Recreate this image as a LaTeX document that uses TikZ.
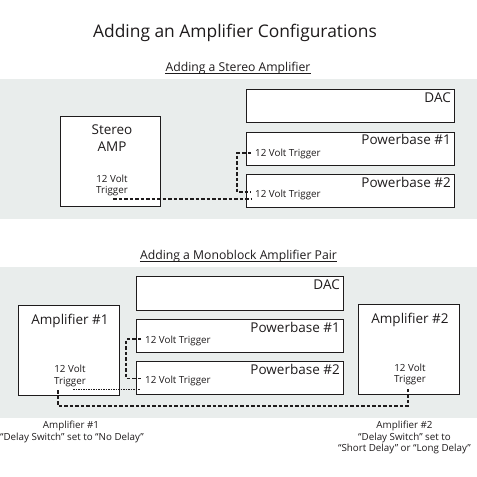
\documentclass[tikz,border=0pt]{standalone}
\usepackage{fontspec}
\setmainfont{Open Sans}
\definecolor{panel}{RGB}{233,237,236}
\definecolor{ink}{RGB}{30,27,28}
\begin{document}
\begin{tikzpicture}[x=1pt,y=-1pt,
  box/.style={draw=ink,line width=1.1pt,fill=white,anchor=north west,inner sep=0pt},
  lbl/.style={inner sep=0pt,text=ink},
  big/.style={lbl,font=\fontsize{13.5}{15}\selectfont},
  small/.style={lbl,font=\fontsize{9.8}{11}\selectfont},
  trig/.style={draw=ink,line width=1.8pt,dash pattern=on 3.5pt off 2pt},
  fine/.style={draw=ink,line width=1.5pt,dash pattern=on 1.5pt off 1pt}]
\useasboundingbox (0,0) rectangle (477,477);
\fill[white] (0,0) rectangle (477,477);
% panels
\fill[panel] (0,79) rectangle (477,219);
\fill[panel] (0,267) rectangle (477,418);
% titles
\node[lbl,anchor=base,font=\fontsize{17.4}{20}\selectfont] (title) at (235,37) {Adding an Amplifier Configurations};
\node[lbl,anchor=base,font=\fontsize{12.2}{14}\selectfont] (sub1) at (238,71) {Adding a Stereo Amplifier};
\node[lbl,anchor=base,font=\fontsize{12.2}{14}\selectfont] (sub2) at (238.5,259.5) {Adding a Monoblock Amplifier Pair};
\draw[ink,line width=0.9pt] ([yshift=-2pt]sub1.base west) -- ([yshift=-2pt]sub1.base east);
\draw[ink,line width=0.9pt] ([yshift=-2pt]sub2.base west) -- ([yshift=-2pt]sub2.base east);
% ---------- top section
\node[box,minimum width=208pt,minimum height=33pt] (dacA) at (246,89) {};
\node[box,minimum width=208pt,minimum height=33pt] (pbA1) at (246,132) {};
\node[box,minimum width=208pt,minimum height=33pt] (pbA2) at (246,174) {};
\node[box,minimum width=100pt,minimum height=90pt] (amp) at (60,116) {};
\node[big,anchor=base east] (dacAt) at (451,102) {DAC};
\node[big,anchor=base east] (pbA1t) at (451,144) {Powerbase \#1};
\node[big,anchor=base east] (pbA2t) at (451,187) {Powerbase \#2};
\node[small,anchor=base west] (pbA1g) at (255,156) {12 Volt Trigger};
\node[small,anchor=base west] (pbA2g) at (255,197) {12 Volt Trigger};
\node[big,anchor=base] (ampt1) at (112,134) {Stereo};
\node[big,anchor=base] (ampt2) at (112,151) {AMP};
\node[small,anchor=base] (ampg1) at (112,182) {12 Volt};
\node[small,anchor=base] (ampg2) at (112,193) {Trigger};
\coordinate (pA1) at (251,153);
\coordinate (pA2) at (251,192);
\coordinate (pA3) at (251,199);
\coordinate (ampP) at (113,199);
\draw[trig] (pA1) -- (237,153) |- (pA2);
\draw[trig] (ampP) -- (pA3);
% ---------- bottom section
\node[box,minimum width=207pt,minimum height=34pt] (dacB) at (135.5,276) {};
\node[box,minimum width=207pt,minimum height=33pt] (pbB1) at (135.5,318.5) {};
\node[box,minimum width=207pt,minimum height=33pt] (pbB2) at (135.5,361) {};
\node[box,minimum width=101pt,minimum height=90pt] (amp1) at (18,305) {};
\node[box,minimum width=101pt,minimum height=90pt] (amp2) at (358,304) {};
\node[big,anchor=base east] (dacBt) at (340,289.5) {DAC};
\node[big,anchor=base east] (pbB1t) at (340,332.5) {Powerbase \#1};
\node[big,anchor=base east] (pbB2t) at (340,374) {Powerbase \#2};
\node[small,anchor=base west] (pbB1g) at (145,343) {12 Volt Trigger};
\node[small,anchor=base west] (pbB2g) at (145,383.5) {12 Volt Trigger};
\node[big,anchor=base] (amp1t) at (70,324) {Amplifier \#1};
\node[small,anchor=base] (amp1g1) at (70,372) {12 Volt};
\node[small,anchor=base] (amp1g2) at (70,384) {Trigger};
\node[big,anchor=base] (amp2t) at (410,323) {Amplifier \#2};
\node[small,anchor=base] (amp2g1) at (410,371) {12 Volt};
\node[small,anchor=base] (amp2g2) at (410,382.5) {Trigger};
\coordinate (pB1) at (141,339.3);
\coordinate (pB2) at (141,378.5);
\coordinate (pB3) at (140,389.5);
\coordinate (amp1P) at (73,389.5);
\coordinate (amp1Q) at (58.3,390);
\coordinate (amp2Q) at (408,387);
\draw[trig] (pB1) -- (126,339.3) |- (pB2);
\draw[fine] (amp1P) -- (pB3);
\draw[trig] (amp1Q) |- (408,406) -- (amp2Q);
% captions
\node[small,anchor=base] (c1a) at (71,428.3) {Amplifier \#1};
\node[small,anchor=base] (c1b) at (72,440) {“Delay Switch” set to “No Delay”};
\node[small,anchor=base] (c2a) at (404.5,428.3) {Amplifier \#2};
\node[small,anchor=base] (c2b) at (404.5,440) {“Delay Switch” set to};
\node[small,anchor=base] (c2c) at (404.5,451.3) {“Short Delay” or “Long Delay”};
\end{tikzpicture}
\end{document}
